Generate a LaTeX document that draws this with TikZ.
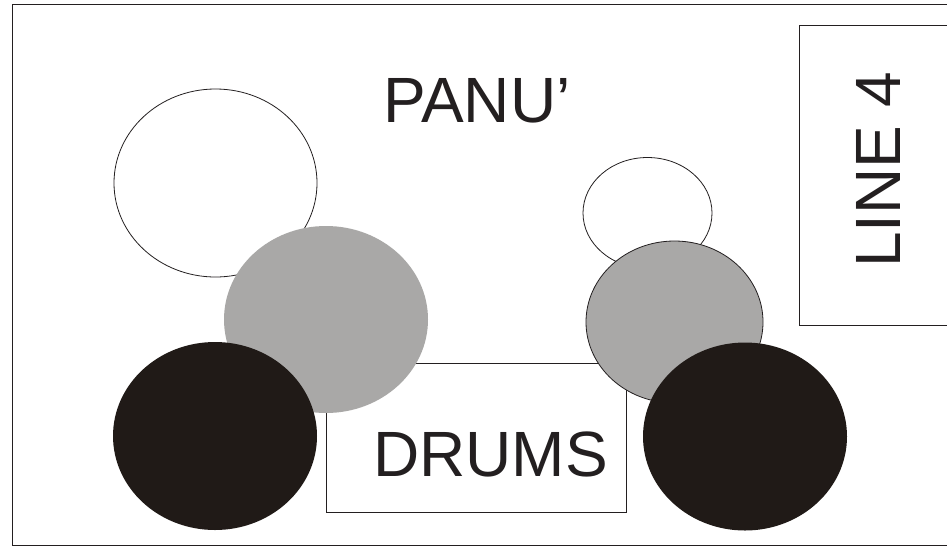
\documentclass[tikz,border=0pt]{standalone}
\usepackage{fontspec}
\setmainfont{Liberation Sans}
\definecolor{ink}{HTML}{231F20}
\definecolor{drumgray}{HTML}{A9A8A7}
\definecolor{drumblack}{HTML}{201A17}
\tikzset{
  frame/.style={draw=ink, line width=1pt},
  whitedrum/.style={draw=ink, line width=0.8pt, fill=white},
  graydrum/.style={fill=drumgray},
  blackdrum/.style={fill=drumblack},
  label/.style={inner sep=0pt, font=\fontsize{64}{64}\selectfont, text=ink}
}
\begin{document}
\begin{tikzpicture}[x=1pt,y=-1pt]
\useasboundingbox (0,0) rectangle (947,547);
\clip (0,0) rectangle (947,547);
\fill[white] (0,0) rectangle (947,547);
% outer frame
\draw[frame] (12,4) rectangle (970,545);
% LINE 4 box
\draw[frame] (799,25) rectangle (970,325);
% DRUMS box
\draw[frame] (326,363) rectangle (626,512);
% white drums
\draw[whitedrum] (215.5,183) ellipse [x radius=101.5, y radius=94];
\draw[whitedrum] (647.5,213) ellipse [x radius=64.5, y radius=55.5];
% gray drums
\fill[graydrum] (326,319.5) ellipse [x radius=102, y radius=93.5];
\draw[graydrum, draw=ink, line width=0.8pt] (674.5,322) ellipse [x radius=88.5, y radius=81];
% black drums
\fill[blackdrum] (215,436) ellipse [x radius=102, y radius=94];
\fill[blackdrum] (745,436.5) ellipse [x radius=102, y radius=94];
% labels
\node[label, anchor=base west] (panu) at (383,122) {PANU’};
\node[label, anchor=base west] (drums) at (373,476) {DRUMS};
\node[label, anchor=base west, rotate=90] (line4) at (900,268) {LINE 4};
\end{tikzpicture}
\end{document}
